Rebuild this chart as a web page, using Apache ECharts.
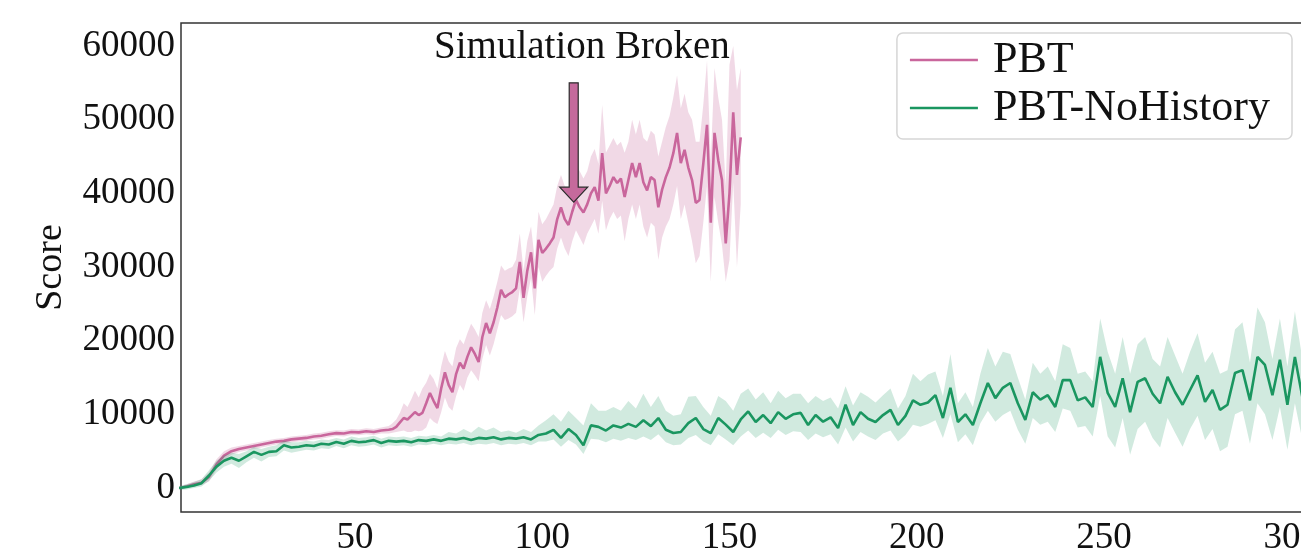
<!DOCTYPE html>
<html><head><meta charset="utf-8">
<script src="https://cdn.jsdelivr.net/npm/echarts@6/dist/echarts.min.js"></script>
<style>html,body{margin:0;padding:0;background:#fff}#c{width:1301px;height:557px}</style>
</head><body><div id="c"></div>
<script>
const FONT = '"Liberation Serif","Times New Roman",serif';

// ---- PBT (pink) ----
const pinkX = [3,5,7,9,11,13,15,17,19,21,23,25,27,29,31,33,35,37,39,41,43,45,47,49,51,53,55,57,59,
  60,61,62,63,64,65,66,67,68,69,70,71,72,73,74,75,76,77,78,79,80,81,82,83,84,85,86,87,88,89,
  90,91,92,93,94,95,96,97,98,99,100,101,102,103,104,105,106,107,108,109,110,111,112,113,114,115,116,117,118,119,
  120,121,122,123,124,125,126,127,128,129,130,131,132,133,134,135,136,137,138,139,140,141,142,143,144,145,146,147,148,149,
  150,151,152,153];
const pinkY = [0,200,500,700,1500,3200,4400,5000,5300,5500,5700,5900,6100,6300,6400,6600,6700,6800,7000,7100,7300,7450,7400,7600,7550,7700,7600,7800,7900,
  8000,8300,8900,9500,9300,9800,10300,9900,10200,11500,
  12900,11800,10850,13500,15700,14000,13000,15500,17000,16200,
  17800,19100,18200,17100,20500,22400,21000,22500,24500,26900,
  25900,26300,26600,27100,30700,25800,29500,32000,27100,33700,
  31900,32500,33200,34000,36500,38100,36500,35700,37500,39100,
  38100,37400,38500,40000,40850,39000,45450,40000,41000,42200,
  41400,42000,39500,41800,44100,42200,44100,41500,40400,42200,
  41800,38100,40500,42200,43500,45450,48200,44100,45900,43500,
  41800,38700,39100,44000,49300,36000,48200,44500,41800,33200,
  40000,51000,42500,47600];
const pinkLo = [-200,0,200,400,900,2500,3800,4500,4900,5100,5300,5500,5700,5900,6000,6200,6300,6400,6600,6700,6900,7050,7000,7200,7150,7300,7200,7400,7400,
  7500,7600,7700,7800,7600,7600,7800,7700,7800,8200,
  9500,9000,8700,10300,12300,11000,10500,12500,14000,13200,
  15000,16000,15300,14500,17500,19400,18000,19500,21500,23500,
  22800,23000,23300,23800,27000,22500,26000,28500,23500,30000,
  28000,28800,29500,30000,32500,34000,32500,31500,33500,35000,
  34000,33000,34500,35500,36500,34500,39000,35000,36500,37500,
  36500,37000,33500,36500,38500,36500,38500,35500,34000,36000,
  35500,31000,34000,35500,36500,38500,41000,36500,38500,36000,
  33500,30500,31500,36000,41000,28000,39500,36000,33000,28000,
  31000,41500,30000,38500];
const pinkHi = [200,500,900,1200,2100,3900,5000,5500,5700,5900,6100,6300,6500,6700,6800,7000,7100,7200,7400,7500,7700,7850,7800,8000,7950,8100,8000,8200,8400,
  8800,9300,10200,11500,11000,12000,13200,12300,13500,14300,
  15500,14800,13500,16500,18600,17200,16500,19000,20200,19500,
  21000,22300,21500,20500,23800,25500,24300,26000,28000,30200,
  29500,29800,30000,31000,34500,29500,33500,35500,31000,37500,
  35800,36500,37500,38500,41000,42500,41000,40500,42000,44000,
  43000,42000,43000,45000,46000,44000,52000,45500,46500,47500,
  46500,47000,45500,47000,50000,48000,50000,47500,47000,48500,
  48000,45000,47000,49000,50500,53000,56000,51500,53500,51000,
  50000,47000,47000,52000,58000,44500,57000,53000,50000,41000,
  57500,60000,54000,57000];

// ---- PBT-NoHistory (green) ----
const greenX = [3,5,7,9,11,13,15,17,19,21,23,25,27,29,31,33,35,37,39,41,43,45,47,49,51,53,55,57,59,61,
  63,65,67,69,71,73,75,77,79,81,83,85,87,89,91,93,95,97,99,101,103,105,107,109,111,113,115,117,119,121,
  123,125,127,129,131,133,135,137,139,141,143,145,147,149,151,153,155,157,159,161,163,165,167,169,171,173,175,177,179,181,
  183,185,187,189,191,193,195,197,199,201,203,205,207,209,211,213,215,217,219,221,223,225,227,229,231,233,235,237,239,241,
  243,245,247,249,251,253,255,257,259,261,263,265,267,269,271,273,275,277,279,281,283,285,287,289,291,293,295,297,299,301,303];
const greenY = [0,150,350,650,1700,2900,3700,4100,3700,4300,
  4900,4500,4900,5000,5800,5500,5600,5800,5700,6000,
  5900,6250,6000,6400,6200,6300,6500,6100,6400,6300,
  6400,6200,6500,6400,6600,6400,6700,6600,6800,6500,
  6800,6700,6900,6600,6800,6700,6900,6600,7200,7400,
  7900,6800,8000,7200,5800,8500,8300,7800,8500,8200,
  8700,8300,9200,8400,9500,7900,7460,7600,8800,9500,
  8000,7460,9500,8600,7600,9300,10400,8960,9900,8800,
  10300,9400,10000,10200,8550,9900,9000,9600,8140,11300,
  8550,10300,9400,8960,9900,10600,8550,9800,11900,11300,
  11600,12600,9500,13600,8960,10000,8550,11500,14250,12200,
  13600,14250,11500,9230,13000,12000,12600,11000,14650,14650,
  11900,12300,11000,17800,12900,11000,14900,10300,14400,14900,
  12800,11500,15100,13000,11300,13300,15300,11700,13300,10600,
  11300,15600,16000,11900,17800,16700,12600,17400,11300,17800,
  12300];
const greenLo = [-300,-200,0,200,1000,2100,2900,3300,2700,3500,
  4100,3600,4200,4300,5100,4800,5000,5200,5100,5400,
  5300,5700,5400,5800,5600,5700,5900,5500,5800,5700,
  5800,5600,5900,5800,6000,5800,6000,5900,6100,5800,
  6000,5900,6100,5800,6000,5900,6100,5800,6300,6300,
  6600,5600,6500,5900,4600,6700,6600,6200,6700,6400,
  6800,6500,7000,6500,7300,6200,5800,5900,6800,7200,
  6300,5800,7300,6600,5800,7000,7800,6800,7500,6800,
  7900,7200,7700,7600,6500,7400,6900,7300,5900,8200,
  6300,7600,7000,6500,7400,7800,6300,7200,8600,8300,
  8700,9200,6800,10000,6200,7300,5800,8800,10500,9000,
  9900,10500,7900,6000,9500,8600,9000,7600,10800,10500,
  8200,8400,7000,12500,7000,5500,9500,4500,8000,9000,
  6800,5500,9500,7500,5600,8000,9800,6500,8000,5000,
  5600,10000,10500,6000,11500,10000,6500,11000,5200,11500,
  6500];
const greenHi = [300,500,800,1200,2400,3700,4400,4800,4600,5000,
  5600,5300,5600,5800,6400,6200,6200,6400,6300,6600,
  6500,6800,6600,7000,6800,6900,7100,6700,7000,6900,
  7000,6800,7100,7000,7200,7000,7600,7400,8000,7500,
  8300,7800,8200,7600,7800,7500,8000,7600,8500,9200,
  10000,9000,10500,9500,8500,11500,10500,10500,11000,10500,
  11800,10800,12800,11000,12500,10500,9800,10000,12400,12500,
  11000,9800,12500,11800,10500,12800,13500,12000,13000,11500,
  13200,12200,12800,12800,11500,12500,11800,12300,10800,13800,
  11200,13000,12400,11600,12600,13500,10800,12500,15500,14500,
  15400,15800,12500,18200,11500,13000,11000,15500,19000,16500,
  18500,18200,15000,12000,17000,15500,16500,14500,19500,19000,
  15500,15800,14500,23000,18500,15500,20500,15500,19500,20500,
  17500,16500,20500,18000,15500,18500,21000,17000,18500,15500,
  16000,21500,22500,17000,24500,22500,17500,23000,16500,24000,
  17500];

// ---- annotation (data coordinates) ----
const annotText = ['Simulation Broken'];
const annotTextPos = [110.6, 59800];
const arrowPos = [108.4, 55000, 38800]; // x, tail y, tip y

const PINK = '#c9669c', GREEN = '#1a9660';

function bandSeries(xs, lo, hi, color, z) {
  return {
    type: 'custom', clip: true, silent: true, z: z,
    data: xs.map((x, i) => [x, lo[i], hi[i]]),
    encode: { x: 0, y: [1, 2] },
    renderItem: function (params, api) {
      if (params.dataIndex !== 0) return null;
      const pts = [];
      for (let i = 0; i < xs.length; i++) pts.push(api.coord([xs[i], hi[i]]));
      for (let i = xs.length - 1; i >= 0; i--) pts.push(api.coord([xs[i], lo[i]]));
      return { type: 'polygon', shape: { points: pts }, style: { fill: color } };
    }
  };
}

const chart = echarts.init(document.getElementById('c'), null, { renderer: 'canvas' });
chart.setOption({
  animation: false,
  backgroundColor: '#fff',
  grid: { left: 181, top: 23, right: -10, bottom: 45, show: true, borderColor: '#333', borderWidth: 1.5,
    backgroundColor: 'transparent', containLabel: false, outerBoundsMode: 'none' },
  legend: {
    data: ['PBT', 'PBT-NoHistory'], orient: 'vertical', right: 9, top: 33,
    icon: 'rect', itemWidth: 68, itemHeight: 2.5, itemGap: 2,
    padding: [4, 22, 8, 13],
    borderColor: '#d6d6d6', borderWidth: 1.5, borderRadius: 6, backgroundColor: '#fff',
    textStyle: { fontFamily: FONT, fontSize: 44, color: '#111', padding: [0, 0, 0, 10], lineHeight: 46 }
  },
  xAxis: {
    type: 'value', min: 3.52, max: 305.3, splitNumber: 6,
    axisLine: { show: false }, axisTick: { show: false }, splitLine: { show: false },
    axisLabel: { fontFamily: FONT, fontSize: 37, color: '#111', margin: 8,
      formatter: v => (Math.abs(v % 50) < 1e-6 ? String(v) : '') }
  },
  yAxis: {
    type: 'value', min: -3257, max: 63120, splitNumber: 6,
    name: 'Score', nameLocation: 'middle', nameGap: 111,
    nameTextStyle: { fontFamily: FONT, fontSize: 38, color: '#111' },
    axisLine: { show: false }, axisTick: { show: false }, splitLine: { show: false },
    axisLabel: { fontFamily: FONT, fontSize: 37, color: '#111', margin: 6,
      formatter: v => (Math.abs(v % 10000) < 1e-6 ? String(v) : '') }
  },
  series: [
    bandSeries(pinkX, pinkLo, pinkHi, 'rgba(201,102,156,0.25)', 1),
    { type: 'line', name: 'PBT', data: pinkX.map((x, i) => [x, pinkY[i]]), symbol: 'none', showSymbol: false,
      lineStyle: { width: 2.6, color: PINK }, itemStyle: { color: PINK }, z: 2 },
    bandSeries(greenX, greenLo, greenHi, 'rgba(26,150,96,0.2)', 3),
    { type: 'line', name: 'PBT-NoHistory', data: greenX.map((x, i) => [x, greenY[i]]), symbol: 'none', showSymbol: false,
      lineStyle: { width: 2.6, color: GREEN }, itemStyle: { color: GREEN }, z: 4 },
    {
      type: 'custom', clip: false, silent: true, z: 10,
      data: [[arrowPos[0], arrowPos[1], arrowPos[2]]],
      encode: { x: 0, y: [1, 2] },
      renderItem: function (params, api) {
        const top = api.coord([arrowPos[0], arrowPos[1]]);
        const tip = api.coord([arrowPos[0], arrowPos[2]]);
        const cx = tip[0], headLen = 15, headHalf = 14, shaftHalf = 4.5;
        const by = tip[1] - headLen;
        const pts = [[cx - shaftHalf, top[1]], [cx + shaftHalf, top[1]], [cx + shaftHalf, by], [cx + headHalf, by],
          [cx, tip[1]], [cx - headHalf, by], [cx - shaftHalf, by]];
        const tp = api.coord(annotTextPos);
        return { type: 'group', children: [
          { type: 'polygon', shape: { points: pts }, style: { fill: '#c56a9c', stroke: '#2b2b2b', lineWidth: 1.2 } },
          { type: 'text', x: tp[0], y: tp[1], style: { text: annotText[0], fontFamily: FONT, fontSize: 39, fill: '#111', align: 'center', verticalAlign: 'middle' } }
        ] };
      }
    }
  ]
});
</script></body></html>
